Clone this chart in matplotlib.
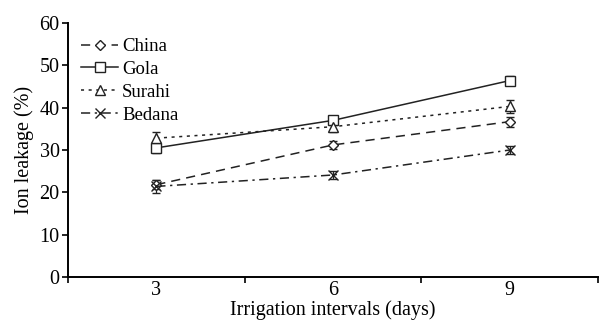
import numpy as np
import matplotlib
matplotlib.use("Agg")
import matplotlib.pyplot as plt
from matplotlib.lines import Line2D

plt.rcParams["font.family"] = ["Liberation Serif", "DejaVu Serif"]

intervals = ["3", "6", "9"]
china = [21.8, 31.2, 36.7]
gola = [30.5, 37.0, 46.4]
surahi = [32.8, 35.5, 40.3]
bedana = [21.4, 24.1, 30.0]
china_err = [1.0, 1.0, 1.2]
gola_err = [1.2, 1.0, 1.0]
surahi_err = [1.5, 1.2, 1.5]
bedana_err = [1.5, 1.0, 1.0]

series = [
    ("China", china, china_err, "D", (0, (6, 4))),
    ("Gola", gola, gola_err, "s", "-"),
    ("Surahi", surahi, surahi_err, "^", (0, (2, 3))),
    ("Bedana", bedana, bedana_err, "x", (0, (6, 3, 1.5, 3))),
]

fig = plt.figure(figsize=(5.99, 3.25), dpi=100)
ax = fig.add_axes([0.1135, 0.1477, 0.885, 0.7815])

x = np.arange(len(intervals)) + 0.5
handles = []
for name, vals, err, marker, ls in series:
    ms = 5.5 if marker == "D" else 7.5
    ax.errorbar(x, vals, yerr=err, color="#222222", lw=1.1, ls=ls,
                marker=marker, ms=ms, mfc="white", mec="#222222", mew=1.0,
                capsize=3, elinewidth=0.9, capthick=0.9)
    handles.append(Line2D([], [], color="#222222", lw=1.1, ls=ls, marker=marker,
                          ms=ms, mfc="white", mec="#222222", mew=1.0, label=name))

ax.set_xlim(0, 3)
ax.set_ylim(0, 60)
ax.set_xticks([0, 1, 2, 3])
ax.set_xticklabels([])
ax.set_xticks(x, minor=True)
ax.set_xticklabels(intervals, minor=True)
ax.tick_params(axis="x", which="minor", length=0, pad=3)
ax.tick_params(axis="both", which="major", length=4, width=1.2, labelsize=14.5, pad=2)
ax.tick_params(axis="x", which="minor", labelsize=14.5)
ax.set_yticks(range(0, 61, 10))

for s in ["top", "right"]:
    ax.spines[s].set_visible(False)
for s in ["left", "bottom"]:
    ax.spines[s].set_linewidth(1.4)

ax.set_xlabel("Irrigation intervals (days)", fontsize=14.5, labelpad=0)
ax.set_ylabel("Ion leakage (%)", fontsize=14.5, labelpad=4)

ax.legend(handles=handles, loc="upper left", frameon=False, fontsize=13.5,
          handlelength=2.0, handletextpad=0.2, labelspacing=0.3,
          borderaxespad=0.0, bbox_to_anchor=(0.01, 0.97))

fig.savefig("out.png", dpi=100)
